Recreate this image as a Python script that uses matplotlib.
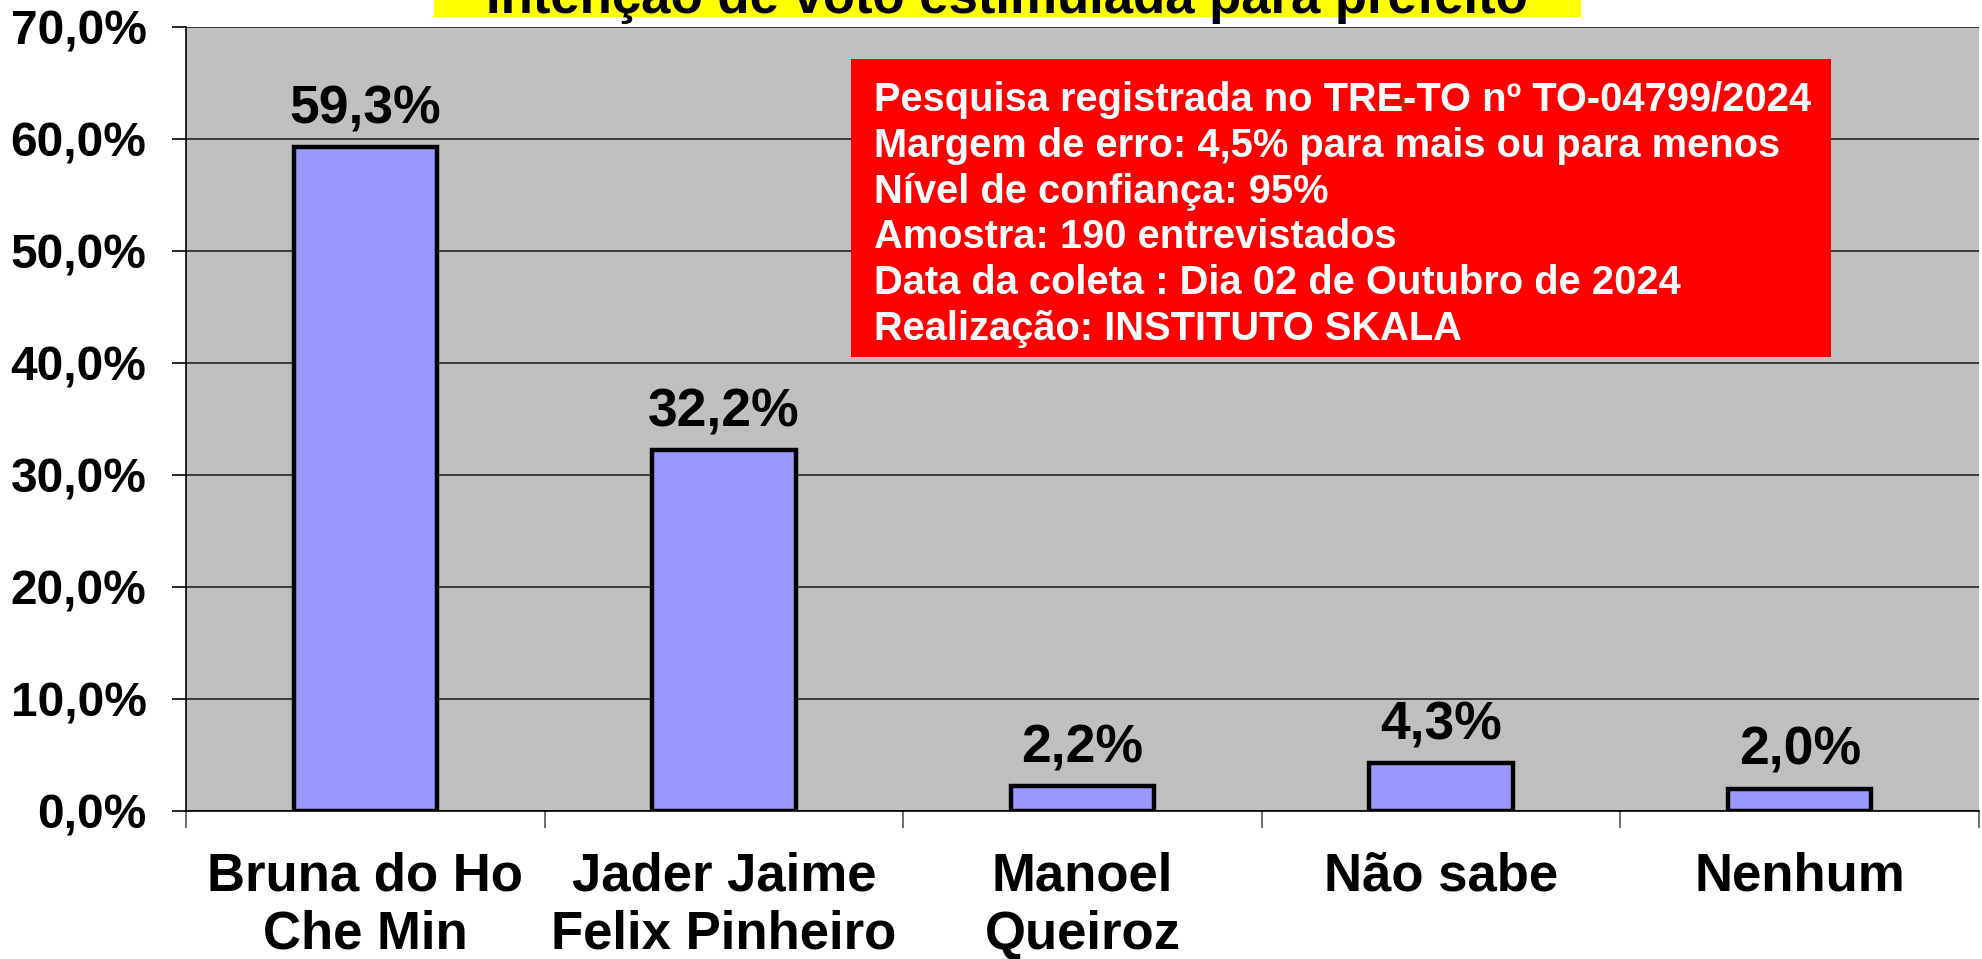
import matplotlib
matplotlib.use("Agg")
import matplotlib.pyplot as plt
from matplotlib.patches import Rectangle

# dados
categorias = ["Bruna do Ho\nChe Min", "Jader Jaime\nFelix Pinheiro", "Manoel\nQueiroz", "Não sabe", "Nenhum"]
valores = [59.3, 32.2, 2.2, 4.3, 2.0]
yticks = [0, 10, 20, 30, 40, 50, 60, 70]
titulo = "Intenção de voto estimulada para prefeito"
info = ["Pesquisa registrada no TRE-TO nº TO-04799/2024",
        "Margem de erro: 4,5% para mais ou para menos",
        "Nível de confiança: 95%",
        "Amostra: 190 entrevistados",
        "Data da coleta : Dia 02 de Outubro de 2024",
        "Realização: INSTITUTO SKALA"]

plt.rcParams['font.family'] = ['Liberation Sans', 'DejaVu Sans']
plt.rcParams['font.weight'] = 'bold'

W, H = 1983, 959
fig = plt.figure(figsize=(W / 100, H / 100), dpi=100)
fig.patch.set_facecolor('white')

# eixo em pixels
ax_l, ax_r, ax_t, ax_b = 186, 1979, 27, 811
ax = fig.add_axes([ax_l / W, 1 - ax_b / H, (ax_r - ax_l) / W, (ax_b - ax_t) / H])
ax.set_facecolor('#C0C0C0')

xx = range(len(valores))
ax.bar(xx, valores, width=0.40, color='#9999FF', edgecolor='black', linewidth=3.2, zorder=3)

for x, v in zip(xx, valores):
    ax.annotate(f"{v:.1f}%".replace('.', ','), (x, v), xytext=(0, 17), textcoords='offset points',
                ha='center', va='baseline', fontsize=38.5, fontweight='bold', zorder=4)

ax.set_xlim(-0.5, len(valores) - 0.5)
ax.set_ylim(0, 70)
ax.set_yticks(yticks)
ax.set_yticklabels([f"{t:.1f}%".replace('.', ',') for t in yticks], fontsize=34.5, fontweight='bold')
ax.yaxis.grid(True, color='#222222', linewidth=1.2, zorder=0)
ax.set_axisbelow(True)

# marcas entre categorias, rotulos no centro
ax.set_xticks([i - 0.5 for i in range(len(valores) + 1)])
ax.set_xticklabels([])
ax.set_xticks(list(xx), minor=True)
ax.set_xticklabels(categorias, minor=True, fontsize=38, fontweight='bold', linespacing=1.22)
ax.tick_params(axis='x', which='major', length=12, width=1.2, color='#555555', direction='out')
ax.tick_params(axis='x', which='minor', length=0, pad=29)
ax.tick_params(axis='y', length=10, width=1.2, pad=18.5, direction='out')

for s in ['top', 'right']:
    ax.spines[s].set_visible(False)
ax.spines['left'].set_linewidth(1.2)
ax.spines['bottom'].set_linewidth(1.2)

# caixa vermelha com informacoes
bx0, bx1, by0, by1 = 851, 1831, 59, 357
ax.add_patch(Rectangle(((bx0 - ax_l) / (ax_r - ax_l), (ax_b - by1) / (ax_b - ax_t)),
                       (bx1 - bx0) / (ax_r - ax_l), (by1 - by0) / (ax_b - ax_t),
                       transform=ax.transAxes, facecolor='#FF0000', edgecolor='none', zorder=5))
ax.text((874 - ax_l) / (ax_r - ax_l), (ax_b - 81) / (ax_b - ax_t), "\n".join(info),
        transform=ax.transAxes, ha='left', va='top', color='white', fontsize=28.7,
        fontweight='bold', linespacing=1.26, zorder=6)

# titulo cortado no topo, fundo amarelo
fig.patches.append(Rectangle((434 / W, 1 - 17 / H), (1581 - 434) / W, 17 / H + 0.01,
                             transform=fig.transFigure, facecolor='#FFFF00', edgecolor='none'))
fig.text(1007 / W, 1 - 13 / H, titulo, ha='center', va='baseline', fontsize=38, fontweight='bold')

fig.savefig('out.png', dpi=100)
